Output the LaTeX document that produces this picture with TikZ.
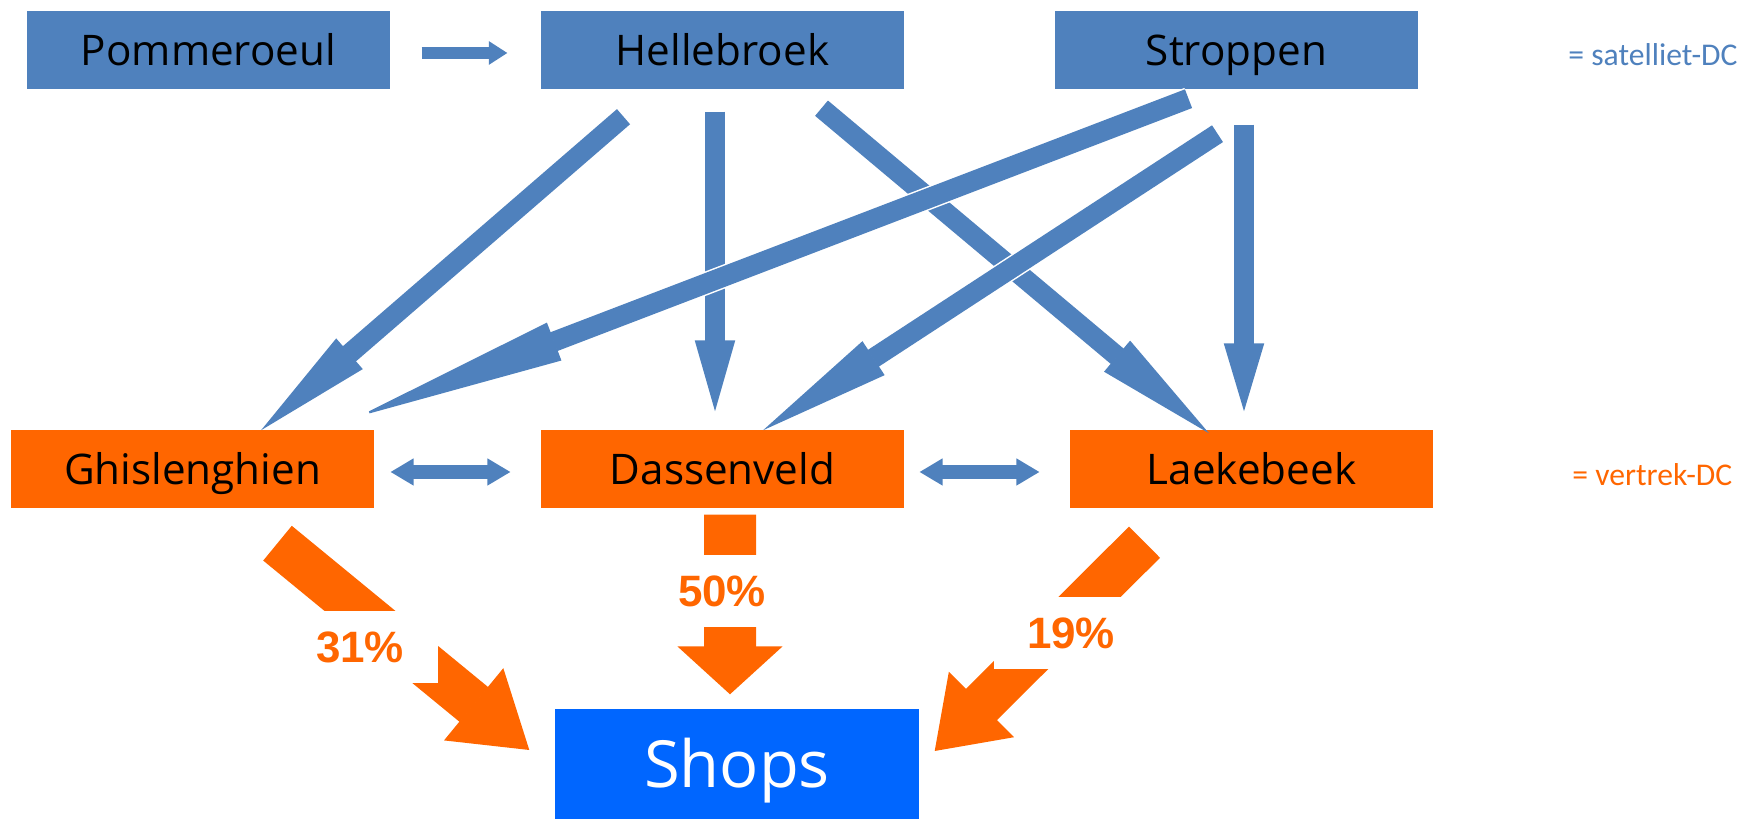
\documentclass[tikz,border=0pt]{standalone}
\usepackage{fontspec}
\setmainfont{Open Sans}
\newfontfamily\legendfont{Carlito}
\newfontfamily\pctfont{Liberation Sans}
\usetikzlibrary{arrows.meta}

\definecolor{satblue}{HTML}{4F81BD}
\definecolor{deporange}{HTML}{FF6600}
\definecolor{shopblue}{HTML}{0066FF}

\tikzset{
    dcbox/.style={minimum width=3.63cm, minimum height=0.78cm, inner sep=0pt,
        text height=8.6pt, text depth=0pt, font=\fontsize{12}{14}\selectfont},
    satbox/.style={dcbox, fill=satblue},
    depbox/.style={dcbox, fill=deporange},
    legend/.style={anchor=west, font=\legendfont\fontsize{9}{11}\selectfont},
    pct/.style={fill=white, text=deporange, inner sep=0pt,
        minimum width=1.55cm, minimum height=0.72cm,
        font=\pctfont\bfseries\fontsize{12.5}{14}\selectfont},
    satarrow/.style={satblue, line width=2mm,
        -{Triangle[length=#1, width=4mm, line width=0.6pt]},
        preaction={draw=white, line width=2.3mm, arrows=-, shorten >=#1}},
    shoparrow/.style n args={3}{deporange, line width=#1,
        -{Triangle[length=#2, width=#3, line width=0.6pt]}}
}

\begin{document}
\begin{tikzpicture}
    \useasboundingbox (0, 0) rectangle (17.4, 8.2);

    \begin{scope}[every node/.style={satbox}]
        \node (Pm) at (2.085, 7.70)  {Pommeroeul};
        \node (Hb) at (7.225, 7.70)  {Hellebroek};
        \node (St) at (12.365, 7.70) {Stroppen};
    \end{scope}

    \begin{scope}[every node/.style={depbox}]
        \node (Gh) at (1.925, 3.51)  {Ghislenghien};
        \node (Dv) at (7.225, 3.51)  {Dassenveld};
        \node (Lb) at (12.515, 3.51) {Laekebeek};
    \end{scope}

    \node[fill=shopblue, text=white, minimum width=3.64cm, minimum height=1.10cm,
        inner sep=0pt, text height=13.2pt, text depth=0pt,
        font=\fontsize{18.5}{22}\selectfont] (Sh) at (7.37, 0.56) {Shops};

    \node[legend, text=satblue]   (satleg) at (15.56, 7.65) {= satelliet-DC};
    \node[legend, text=deporange] (depleg) at (15.60, 3.45) {= vertrek-DC};

    \begin{scope}[satblue, line width=1.33mm,
            >={Triangle[length=2.3mm, width=2.7mm, line width=0.5pt]}]
        \draw[-{Triangle[length=1.85mm, width=2.34mm, line width=0.5pt]},
            line width=1.16mm, shorten <=3.1mm, shorten >=3.3mm]
            ([yshift=-0.3mm]Pm.east) -- ([yshift=-0.3mm]Hb.west);
        \draw[<->, shorten <=1.6mm, shorten >=3mm]
            ([yshift=-0.3mm]Gh.east) -- ([yshift=-0.3mm]Dv.west);
        \draw[<->, shorten <=1.5mm, shorten >=3mm]
            ([yshift=-0.3mm]Dv.east) -- ([yshift=-0.3mm]Lb.west);
    \end{scope}

    % Hellebroek first, Stroppen crosses over it
    \draw[satarrow=1.17cm] ([shift={(-0.99,-0.27)}]Hb.south) -- ([shift={(0.685,-0.01)}]Gh.north);
    \draw[satarrow=0.71cm] ([shift={(-0.075,-0.22)}]Hb.south) -- ([shift={(-0.075,0.18)}]Dv.north);
    \draw[satarrow=1.20cm] ([shift={(0.99,-0.185)}]Hb.south) -- ([shift={(-0.425,-0.04)}]Lb.north);
    \draw[satarrow=2.09cm] ([shift={(-0.48,-0.09)}]St.south) -- ([shift={(1.665,0.13)}]Gh.north);
    \draw[satarrow=1.32cm] ([shift={(-0.19,-0.44)}]St.south) -- ([shift={(0.405,-0.01)}]Dv.north);
    \draw[satarrow=0.68cm] ([shift={(0.075,-0.35)}]St.south) -- ([shift={(-0.075,0.18)}]Lb.north);

    \draw[shoparrow={0.45cm}{0.72cm}{0.93cm}] ([shift={(0.85,-0.345)}]Gh.south) -- ([shift={(-0.25,0.14)}]Sh.west);
    \draw[shoparrow={0.52cm}{0.48cm}{1.05cm}] ([shift={(0.075,-0.06)}]Dv.south) -- ([shift={(-0.07,0.14)}]Sh.north);
    \draw[shoparrow={0.44cm}{0.66cm}{0.92cm}] ([shift={(-1.07,-0.335)}]Lb.south) -- ([shift={(0.15,0.13)}]Sh.east);

    \node[pct] (p31) at (3.60, 1.73)  {31\%};
    \node[pct] (p50) at (7.22, 2.29)  {50\%};
    \node[pct] (p19) at (10.71, 1.87) {19\%};
\end{tikzpicture}
\end{document}
